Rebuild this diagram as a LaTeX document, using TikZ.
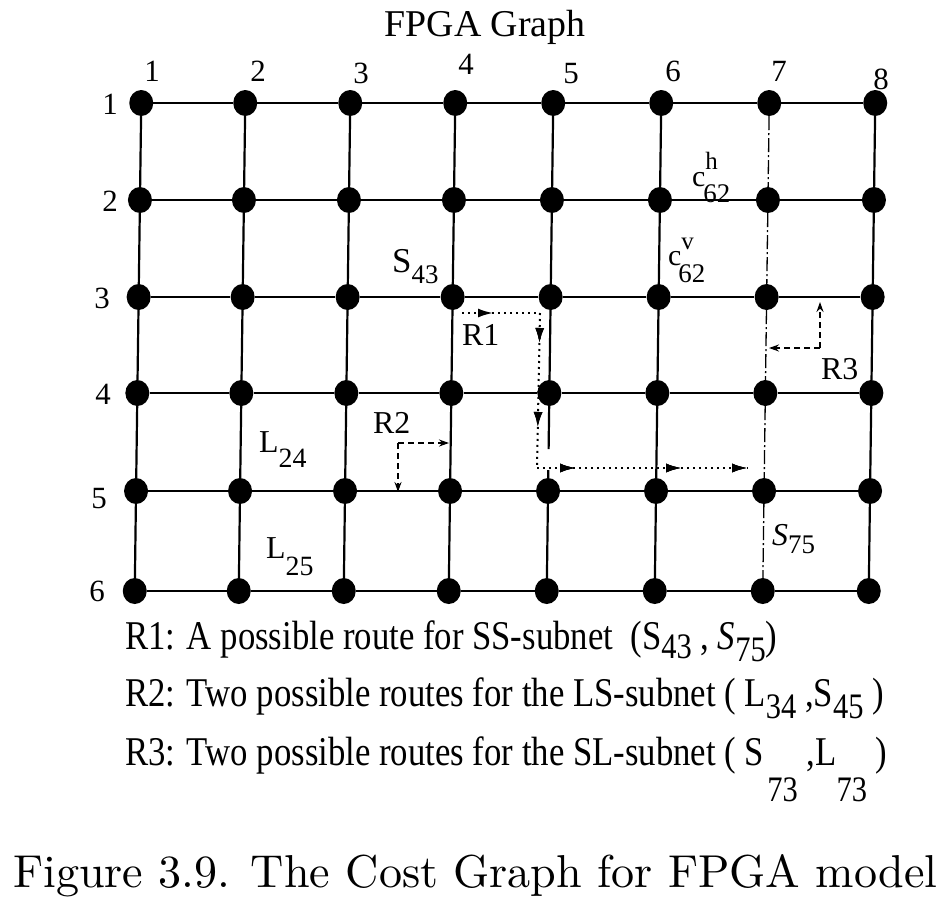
\documentclass[tikz,border=0pt]{standalone}
\usepackage{fontspec}
\usepackage{graphicx}
\newfontfamily\tnr{Liberation Serif}
\usetikzlibrary{arrows.meta,decorations.markings,shapes.geometric}
\newcommand\lsub[2]{\raisebox{-#1bp}{\fontsize{36}{36}\selectfont #2}}
\tikzset{
  vtx/.style={ellipse,fill=black,inner sep=0pt,minimum width=24bp,minimum height=26bp},
  gridline/.style={line width=2.2bp},
  dashdotline/.style={line width=1.3bp,dash pattern=on 14bp off 3bp on 2bp off 3bp},
  lbl/.style={font=\tnr\fontsize{31}{31}\selectfont,inner sep=0pt},
  inlbl/.style={font=\tnr\fontsize{32}{32}\selectfont,inner sep=0pt,anchor=base west},
  legend/.style={font=\tnr\fontsize{41}{41}\selectfont,inner sep=0pt,anchor=base west},
  routeone/.style={line width=2bp,dash pattern=on 2bp off 4bp},
  routedash/.style={line width=1.8bp,dash pattern=on 6bp off 4bp},
  tipone/.style={decoration={markings,mark=at position #1 with {\arrow{Latex[length=15bp,width=9bp]}}},postaction={decorate}},
  tipdash/.style={-{Stealth[length=10bp,width=7bp]}}
}
\begin{document}
\begin{tikzpicture}[x=1bp,y=-1bp]
\useasboundingbox (0,0) rectangle (949,909);
% vertices
\foreach \c/\x in {1/138,2/242,3/347,4/452,5/550,6/658,7/766,8/872}{
  \foreach \r/\y in {1/103,2/200,3/297,4/393,5/491,6/591}{
    \node[vtx] (n\r\c) at ({\x+1.3*(3.5-\r)},\y) {};
  }
}
% horizontal edges
\foreach \r in {1,...,6}{
  \foreach \c [evaluate=\c as \cn using int(\c+1)] in {1,...,7}{
    \draw[gridline] (n\r\c) -- (n\r\cn);
  }
}
% vertical edges
\foreach \c in {1,2,3,4,6,8}{
  \foreach \r [evaluate=\r as \rn using int(\r+1)] in {1,...,5}{
    \draw[gridline] (n\r\c) -- (n\rn\c);
  }
}
\foreach \r [evaluate=\r as \rn using int(\r+1)] in {1,2,3,5}{
  \draw[gridline] (n\r5) -- (n\rn5);
}
\draw[gridline,dash pattern=on 43bp off 21bp on 40bp] (n45) -- (n55);
\foreach \r [evaluate=\r as \rn using int(\r+1)] in {1,...,5}{
  \draw[dashdotline] (n\r7) -- (n\rn7);
}
% title and axis labels
\node[font=\tnr\fontsize{38}{38}\selectfont,inner sep=0pt,anchor=base] (title) at (485,36) {FPGA Graph};
\foreach \c/\x/\y in {1/152/81,2/258/81,3/361/83,4/466/74,5/571/83,6/673/81,7/779/81,8/881/89}{
  \node[lbl,anchor=base] (col\c) at (\x,\y) {\c};
}
\foreach \r/\x/\y in {1/110/114,2/110/211,3/102/308,4/103/404,5/99/508,6/97/601}{
  \node[lbl,anchor=base] (row\r) at (\x,\y) {\r};
}
% inner labels
\node[inlbl,font=\tnr\fontsize{35}{35}\selectfont] (s43) at (392,272) {S\raisebox{-11bp}{\fontsize{27}{27}\selectfont 43}};
\node[inlbl] (l24) at (259,452) {L\raisebox{-15bp}{\fontsize{28}{28}\selectfont 24}};
\node[inlbl] (l25) at (266,558) {L\raisebox{-17bp}{\fontsize{28}{28}\selectfont 25}};
\node[inlbl] (s75) at (772,545) {\itshape S\upshape\raisebox{-8bp}{\fontsize{27}{27}\selectfont 75}};
\node[inlbl] (r1l) at (462,345) {R1};
\node[inlbl] (r2l) at (373,433) {R2};
\node[inlbl] (r3l) at (821,379) {R3};
\node[inlbl,font=\tnr\fontsize{30}{30}\selectfont] (ch) at (692,186)
  {c\makebox[0pt][l]{\raisebox{17bp}{\fontsize{25}{25}\selectfont h}}\hspace{-2bp}\raisebox{-16bp}{\fontsize{27}{27}\selectfont 62}};
\node[inlbl,font=\tnr\fontsize{30}{30}\selectfont] (cv) at (668,265)
  {c\makebox[0pt][l]{\raisebox{16bp}{\fontsize{25}{25}\selectfont v}}\hspace{-3bp}\raisebox{-17bp}{\fontsize{27}{27}\selectfont 62}};
% route R1
\coordinate (r1a) at (462,313);
\coordinate (r1b) at (540,313);
\coordinate (r1c) at (537,468);
\coordinate (r1d) at (748,468);
\draw[routeone,tipone=31bp] (r1a) -- (r1b);
\draw[routeone,tipone=30bp,tipone=114bp] (r1b) -- (r1c);
\draw[routeone,tipone=38bp,tipone=144bp,tipone=210bp] (r1c) -- (r1d);
% route R2
\coordinate (r2c) at (398,443);
\coordinate (r2h) at (449,443);
\coordinate (r2v) at (398,492);
\draw[routedash,tipdash] (r2c) -- (r2h);
\draw[routedash,tipdash] (r2c) -- (r2v);
% route R3
\coordinate (r3c) at (820,348);
\coordinate (r3u) at (820,302);
\coordinate (r3l) at (769,348);
\draw[routedash,tipdash] (r3c) -- (r3u);
\draw[routedash,tipdash] (r3c) -- (r3l);
% legend
\node[legend] (leg1) at (125,649) {\scalebox{0.85}[1]{R1: A possible route for SS-subnet\ \ (S\lsub{9}{43} , \textit{S}\lsub{12}{75})}};
\node[legend] (leg2) at (125,706) {\scalebox{0.85}[1]{R2: Two possible routes for the LS-subnet ( L\lsub{12}{34} ,S\lsub{12}{45} )}};
\node[legend] (leg3) at (125,765) {\scalebox{0.85}[1]{R3: Two possible routes for the SL-subnet ( S\hspace{4bp}\lsub{36}{73} ,L\lsub{36}{73} )}};
% caption
\node[inner sep=0pt,anchor=base west] (caption) at (13,887) {\resizebox{924bp}{!}{Figure 3.9. The Cost Graph for FPGA model}};
\end{tikzpicture}
\end{document}
